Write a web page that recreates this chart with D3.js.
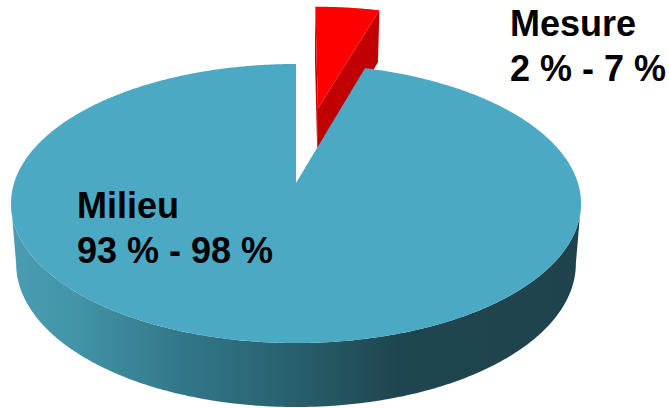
<!DOCTYPE html>
<html>
<head>
<meta charset="utf-8">
<script src="https://cdn.jsdelivr.net/npm/d3@7"></script>
<style>
  body { margin: 0; background: #fff; }
  text { font-family: "Liberation Sans", Arial, sans-serif; font-weight: bold; font-size: 36px; fill: #000; }
</style>
</head>
<body>
<div id="chart"></div>
<script>
// data
const categories = ["Mesure", "Milieu"]
const values = [4.5, 95.5]
const rangeLabels = ["2 % - 7 %", "93 % - 98 %"]

const width = 669
const height = 408

const topColors = { Mesure: "#ff0000", Milieu: "#4ba9c4" }
const sideColors = { Mesure: "#c00000", Milieu: "url(#sideGrad)" }
const explodedSlice = "Mesure"
const explodeDist = 0.6

// perspective of the disc (u: right, v: toward viewer, h: 0 top .. 1 bottom)
const persp = 0.147
const rx = 281.9, ry = 136.5
const cx = 296, cy = 183

function proj(u, v, h) {
  const w = 1 - persp * v
  const depth = 59.3 + 4.7 * v
  return [cx + rx * u / w * (1 - 0.018 * h), cy + ry * v / w + h * depth]
}

const svg = d3.select("#chart")
  .append("svg")
  .attr("width", width)
  .attr("height", height)

const grad = svg.append("defs").append("linearGradient")
  .attr("id", "sideGrad")
  .attr("gradientUnits", "userSpaceOnUse")
  .attr("x1", 8).attr("x2", 580).attr("y1", 0).attr("y2", 0)
const stops = [[0, "#4a9db3"], [0.12, "#4294a6"], [0.3, "#32788a"], [0.5, "#28606d"], [0.68, "#1f4650"], [1, "#1f434d"]]
stops.forEach(s => grad.append("stop").attr("offset", s[0]).attr("stop-color", s[1]))

const pie = d3.pie().sort(null).value(d => d.value)
const slices = pie(categories.map((c, i) => ({ name: c, value: values[i], label: rangeLabels[i] })))

const line = d3.line()

function rimPoint(a, off) {
  return [Math.sin(a) + off[0], -Math.cos(a) + off[1]]
}

function arcPts(a0, a1, off, h) {
  const n = Math.max(2, Math.ceil((a1 - a0) / 0.008))
  return d3.range(n + 1).map(i => {
    const a = a0 + (a1 - a0) * i / n
    const p = rimPoint(a, off)
    return proj(p[0], p[1], h)
  })
}

// is a side face turned toward the camera?
const camV = 1 / persp
function facing(pt, n) {
  return n[0] * (0 - pt[0]) + n[1] * (camV - pt[1]) > 0
}

const g = svg.append("g")

// exploded slice sits behind, draw it first
const drawOrder = slices.slice().sort((a, b) => (a.data.name === explodedSlice ? -1 : 1))

drawOrder.forEach(s => {
  const mid = (s.startAngle + s.endAngle) / 2
  const e = s.data.name === explodedSlice ? explodeDist : 0
  const off = [Math.sin(mid) * e, -Math.cos(mid) * e]
  const sg = g.append("g").attr("class", "slice")

  // radial side faces
  ;[[s.startAngle, -1], [s.endAngle, 1]].forEach(([a, sign]) => {
    const rim = rimPoint(a, off)
    const n = [Math.cos(a) * sign, Math.sin(a) * sign]
    const midPt = [(rim[0] + off[0]) / 2, (rim[1] + off[1]) / 2]
    if (facing(midPt, n)) {
      const pts = [proj(off[0], off[1], 0), proj(rim[0], rim[1], 0), proj(rim[0], rim[1], 1), proj(off[0], off[1], 1)]
      sg.append("path").attr("d", line(pts) + "Z").attr("fill", sideColors[s.data.name])
    }
  })

  // outer wall, front part only
  const visA0 = Math.acos(-persp)
  const visA1 = 2 * Math.PI - visA0
  const a0 = Math.max(s.startAngle, visA0)
  const a1 = Math.min(s.endAngle, visA1)
  if (a1 > a0 && e === 0) {
    const topPts = arcPts(a0, a1, off, 0)
    const botPts = arcPts(a0, a1, off, 1).reverse()
    sg.append("path").attr("d", line(topPts.concat(botPts)) + "Z").attr("fill", sideColors[s.data.name])
  }

  // top face
  const topPts = [proj(off[0], off[1], 0)].concat(arcPts(s.startAngle, s.endAngle, off, 0))
  sg.append("path").attr("d", line(topPts) + "Z").attr("fill", topColors[s.data.name])
})

// data labels
const labelPos = { Milieu: [77, 218], Mesure: [510, 36] }
slices.forEach(s => {
  const [x, y] = labelPos[s.data.name]
  const t = svg.append("text").attr("x", x).attr("y", y)
  t.append("tspan").attr("x", x).text(s.data.name)
  t.append("tspan").attr("x", x).attr("dy", 45).text(s.data.label)
})
</script>
</body>
</html>
